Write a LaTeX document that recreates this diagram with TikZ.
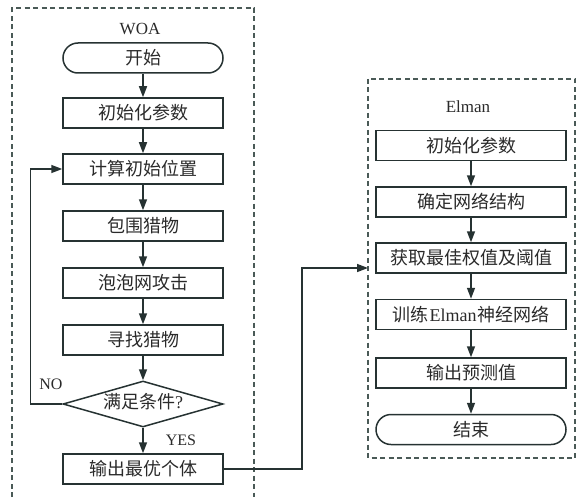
\documentclass[tikz,border=0pt]{standalone}
\usepackage{fontspec}
\setmainfont{Liberation Serif}
\newfontfamily\cjk{Noto Sans CJK SC}
\usetikzlibrary{arrows.meta,shapes.geometric}
\definecolor{ln}{HTML}{263232}
\definecolor{fr}{HTML}{4A5A57}
\definecolor{txt}{HTML}{2A2A2A}

\begin{document}
\begin{tikzpicture}[x=1pt,y=-1pt,
  proc/.style={draw=ln, line width=1.5pt, minimum width=160pt, minimum height=30pt,
    inner sep=0pt, text=txt, font=\cjk\fontsize{18}{18}\selectfont},
  procw/.style={proc, minimum width=190pt},
  term/.style={proc, rounded corners=15pt},
  termw/.style={procw, rounded corners=15pt},
  cond/.style={diamond, aspect=3.48, draw=ln, line width=1.5pt, minimum width=160pt,
    minimum height=46pt, inner sep=0pt, text height=11pt, text depth=2pt,
    text=txt, font=\cjk\fontsize{18}{18}\selectfont},
  flow/.style={draw=ln, line width=1.5pt, -{Triangle[length=11pt,width=8pt]}},
  frame/.style={draw=fr, line width=1.1pt, dash pattern=on 5pt off 3.5pt},
  lbl/.style={text=txt, font=\fontsize{16}{16}\selectfont},
  ttl/.style={text=txt, font=\fontsize{17}{17}\selectfont}
]
\useasboundingbox (0,0) rectangle (585,497);

% dashed frames
\draw[frame] (12,497) -- (12,8) -- (254,8) -- (254,497);
\draw[frame] (368,79) rectangle (575,458);

% WOA column
\node[ttl] (woa) at (140,29) {WOA};
\node[term] (start) at (143,58) {开始};
\node[proc] (winit) at (143,113) {初始化参数};
\node[proc] (calc) at (143,169) {计算初始位置};
\node[proc] (encl) at (143,226) {包围猎物};
\node[proc] (bubble) at (143,283) {泡泡网攻击};
\node[proc] (search) at (143,340) {寻找猎物};
\node[cond] (check) at (143,404) {满足条件{\rmfamily ?}};
\node[proc] (best) at (143,469) {输出最优个体};

\draw[flow] (start) -- (winit);
\draw[flow] (winit) -- (calc);
\draw[flow] (calc) -- (encl);
\draw[flow] (encl) -- (bubble);
\draw[flow] (bubble) -- (search);
\draw[flow] (search) -- (check);
\draw[flow] (check) -- (best);
\draw[flow] (check.west) -- ++(-32,0) |- (calc.west);
\node[lbl] (no) at (51,384) {NO};
\node[lbl] (yes) at (181,440) {YES};

% Elman column
\node[ttl] (elman) at (468,107) {Elman};
\node[procw] (einit) at (471,145.5) {初始化参数};
\node[procw] (struct) at (471,202) {确定网络结构};
\node[procw] (weights) at (471,258) {获取最佳权值及阈值};
\node[procw] (train) at (471,314.5) {训练{\rmfamily\kern1pt Elman\kern1pt}神经网络};
\node[procw] (pred) at (471,373) {输出预测值};
\node[termw] (stop) at (471,429.5) {结束};

\draw[flow] (einit) -- (struct);
\draw[flow] (struct) -- (weights);
\draw[flow] (weights) -- (train);
\draw[flow] (train) -- (pred);
\draw[flow] (pred) -- (stop);

% hand-over from WOA to Elman
\coordinate (entry) at (368,268);
\draw[flow] (best.east) -- ++(78,0) |- (entry);
\end{tikzpicture}
\end{document}
